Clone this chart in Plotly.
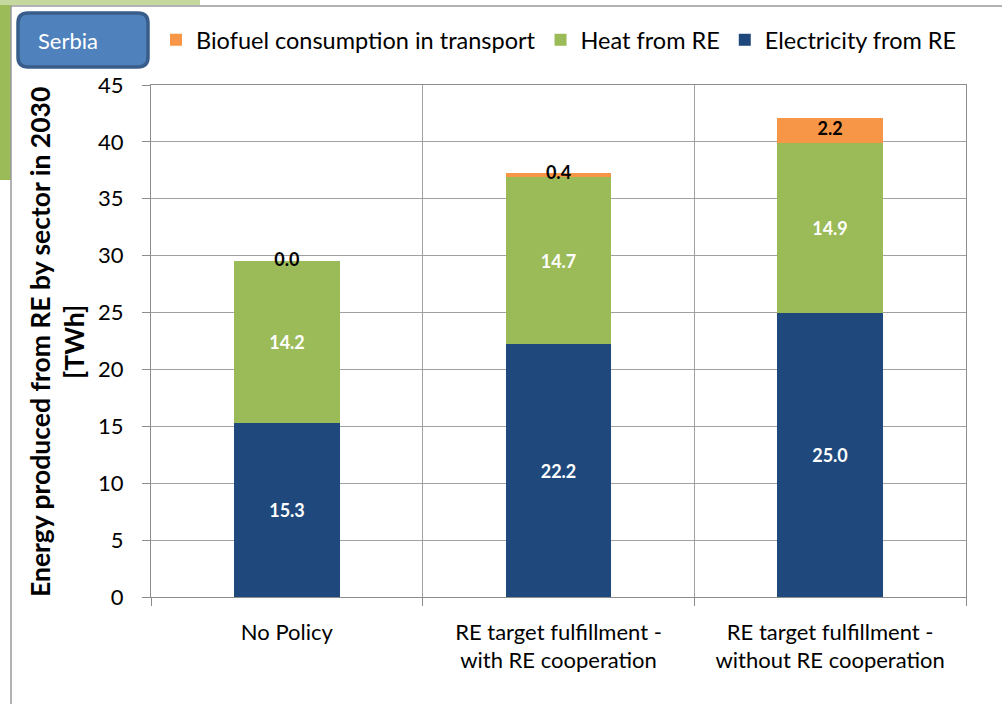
import plotly.graph_objects as go

categories = ["No Policy", "RE target fulfillment -<br>with RE cooperation", "RE target fulfillment -<br>without RE cooperation"]
electricity = [15.3, 22.2, 25.0]
heat = [14.2, 14.7, 14.9]
biofuel = [0.0, 0.4, 2.2]

C_ELEC = "#1F497D"
C_HEAT = "#9BBB59"
C_BIO = "#F79646"
FONT = "Lato"

W, H = 1002, 704
L, R, T, B = 151, 36, 85, 107
PW, PH = W - L - R, H - T - B

def px(x):
    return (x - L) / PW

def py(y):
    return (H - B - y) / PH

xs = list(range(len(categories)))
bw = 0.39

fig = go.Figure()
fig.add_trace(go.Bar(x=xs, y=electricity, name="Electricity from RE", marker=dict(color=C_ELEC, line=dict(width=0)),
                     width=bw, text=[f"{v:.1f}" for v in electricity], textposition="inside",
                     insidetextanchor="middle", textangle=0, constraintext="none",
                     textfont=dict(color="white", size=18, family=FONT, weight="bold")))
fig.add_trace(go.Bar(x=xs, y=heat, name="Heat from RE", marker=dict(color=C_HEAT, line=dict(width=0)),
                     width=bw, text=[f"{v:.1f}" for v in heat], textposition="inside",
                     insidetextanchor="middle", textangle=0, constraintext="none",
                     textfont=dict(color="white", size=18, family=FONT, weight="bold")))
fig.add_trace(go.Bar(x=xs, y=biofuel, name="Biofuel consumption in transport", marker=dict(color=C_BIO, line=dict(width=0)),
                     width=bw, textposition="none"))
bio_pos = [e + h + b / 2 for e, h, b in zip(electricity, heat, biofuel)]
fig.add_trace(go.Scatter(x=xs, y=bio_pos, mode="text", text=[f"{v:.1f}" for v in biofuel],
                         textposition="middle center", showlegend=False, hoverinfo="skip",
                         textfont=dict(color="black", size=18, family=FONT, weight="bold")))

n = len(categories)
bounds = [i - 0.5 for i in range(n + 1)]

fig.update_layout(
    width=W, height=H,
    margin=dict(l=L, r=R, t=T, b=B, autoexpand=False),
    paper_bgcolor="white", plot_bgcolor="white",
    barmode="stack",
    font=dict(family=FONT, size=22, color="black"),
    showlegend=True,
    legend=dict(orientation="h", traceorder="reversed", x=px(156), y=py(18), xanchor="left", yanchor="top",
                font=dict(size=23.5, family=FONT), bgcolor="rgba(0,0,0,0)", itemwidth=30),
    xaxis=dict(range=[-0.5, n - 0.5], tickmode="array", tickvals=xs, ticktext=categories,
               showgrid=False, ticks="", showline=True, linecolor="#8c8c8c", linewidth=1.3, mirror=True,
               tickfont=dict(size=22, family=FONT), ticklabelstandoff=15, zeroline=False,
               minor=dict(tickmode="array", tickvals=bounds, showgrid=True, gridcolor="#a0a0a0",
                          gridwidth=1.3, ticks="outside", ticklen=8, tickcolor="#8c8c8c", tickwidth=1.3)),
    yaxis=dict(range=[0, 45], dtick=5, tick0=0, showgrid=True, gridcolor="#a0a0a0", gridwidth=1.3,
               ticks="outside", ticklen=8, tickcolor="#8c8c8c", tickwidth=1.3,
               showline=True, linecolor="#8c8c8c", linewidth=1.3, mirror=True, zeroline=False,
               tickfont=dict(size=22, family=FONT), ticklabelstandoff=14),
    bargap=0,
)

# y-axis title
fig.add_annotation(text="<b>Energy produced from RE by sector in 2030<br>[TWh]</b>", xref="paper", yref="paper",
                   x=px(57), y=py(342), xanchor="center", yanchor="middle", textangle=-90, showarrow=False,
                   font=dict(size=26.5, family=FONT, color="black"))

# page frame decorations
shapes = [
    dict(type="rect", xref="paper", yref="paper", x0=px(0), x1=px(11), y0=py(180), y1=py(0),
         fillcolor="#9BBB59", line=dict(width=0), layer="below"),
    dict(type="rect", xref="paper", yref="paper", x0=px(0), x1=px(200), y0=py(5), y1=py(0),
         fillcolor="#c5d99e", line=dict(width=0), layer="below"),
    dict(type="line", xref="paper", yref="paper", x0=px(11), x1=px(1002), y0=py(6), y1=py(6),
         line=dict(color="#9a9a9a", width=1.5)),
    dict(type="line", xref="paper", yref="paper", x0=px(11), x1=px(11), y0=py(6), y1=py(704),
         line=dict(color="#9a9a9a", width=1.5)),
]
# rounded "Serbia" box
x0, x1, y0, y1, r = 18, 148, 13, 67, 10
path = (f"M {px(x0+r)},{py(y0)} L {px(x1-r)},{py(y0)} Q {px(x1)},{py(y0)} {px(x1)},{py(y0+r)} "
        f"L {px(x1)},{py(y1-r)} Q {px(x1)},{py(y1)} {px(x1-r)},{py(y1)} "
        f"L {px(x0+r)},{py(y1)} Q {px(x0)},{py(y1)} {px(x0)},{py(y1-r)} "
        f"L {px(x0)},{py(y0+r)} Q {px(x0)},{py(y0)} {px(x0+r)},{py(y0)} Z")
shapes.append(dict(type="path", xref="paper", yref="paper", path=path, fillcolor="#4F81BD",
                   line=dict(color="#385D8A", width=3.5)))
fig.update_layout(shapes=shapes)
fig.add_annotation(text="Serbia", xref="paper", yref="paper", x=px(68), y=py(40), xanchor="center",
                   yanchor="middle", showarrow=False, font=dict(size=22, family=FONT, color="white"))

fig.write_html("out.html", config={"displayModeBar": False},
               post_script="document.body.style.margin='0px';document.body.style.overflow='hidden';")
